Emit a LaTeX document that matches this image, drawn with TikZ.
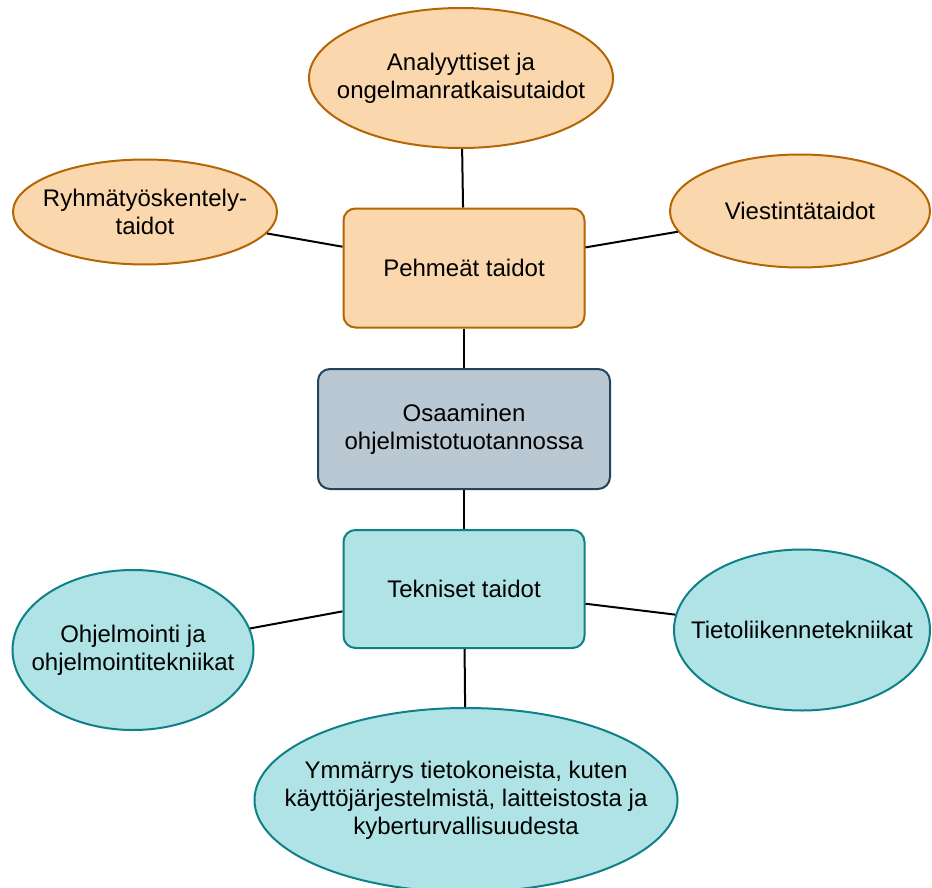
\documentclass[tikz,border=0pt]{standalone}
\usepackage{fontspec}
\setmainfont{Liberation Sans}
\usetikzlibrary{shapes.geometric}
\definecolor{softfill}{HTML}{FAD7AC}
\definecolor{softline}{HTML}{B46504}
\definecolor{corefill}{HTML}{BAC8D3}
\definecolor{coreline}{HTML}{23445D}
\definecolor{techfill}{HTML}{B0E3E6}
\definecolor{techline}{HTML}{0E8088}

\begin{document}
\begin{tikzpicture}[x=0.5pt, y=-0.5pt,
  txt/.style={align=center, inner sep=0pt, font=\fontsize{12}{14}\selectfont},
  box/.style={txt, draw, rounded corners=6pt, line width=1pt},
  bubble/.style={txt, ellipse, draw, line width=1pt, inner xsep=-80pt, inner ysep=-40pt},
  soft/.style={fill=softfill, draw=softline},
  core/.style={fill=corefill, draw=coreline},
  tech/.style={fill=techfill, draw=techline},
  link/.style={line width=1pt}]
  \useasboundingbox (0, 0) rectangle (932, 888);

  % soft skills
  \node[box, soft, minimum width=120.5pt, minimum height=59.5pt] (pehmea) at (464, 268) {Pehmeät taidot};
  \node[bubble, soft, minimum width=152pt, minimum height=70pt] (analyysi) at (461, 78) {Analyyttiset ja\\ongelmanratkaisutaidot};
  \node[bubble, soft, minimum width=132pt, minimum height=52.5pt] (ryhma) at (145, 212) {Ryhmätyöskentely-\\taidot};
  \node[bubble, soft, minimum width=130pt, minimum height=56.5pt] (viesti) at (800, 211) {Viestintätaidot};

  % core
  \node[box, core, minimum width=146pt, minimum height=60pt] (osaaminen) at (464, 429) {Osaaminen\\ohjelmistotuotannossa};

  % technical skills
  \node[box, tech, minimum width=120.5pt, minimum height=59pt] (tekninen) at (464, 589) {Tekniset taidot};
  \node[bubble, tech, minimum width=120.5pt, minimum height=80pt] (ohjelmointi) at (133, 650) {Ohjelmointi ja\\ohjelmointitekniikat};
  \node[bubble, tech, minimum width=128pt, minimum height=80.5pt] (tietoliikenne) at (802, 630) {Tietoliikennetekniikat};
  \node[bubble, tech, minimum width=211.5pt, minimum height=92pt] (ymmarrys) at (466, 800) {Ymmärrys tietokoneista, kuten\\käyttöjärjestelmistä, laitteistosta ja\\kyberturvallisuudesta};

  \draw[link] (analyysi) -- (pehmea);
  \draw[link] (ryhma) -- (pehmea);
  \draw[link] (viesti) -- (pehmea);
  \draw[link] (pehmea) -- (osaaminen);
  \draw[link] (osaaminen) -- (tekninen);
  \draw[link] (tekninen) -- (ohjelmointi);
  \draw[link] (tekninen) -- (tietoliikenne);
  \draw[link] (tekninen) -- (ymmarrys);
\end{tikzpicture}
\end{document}
